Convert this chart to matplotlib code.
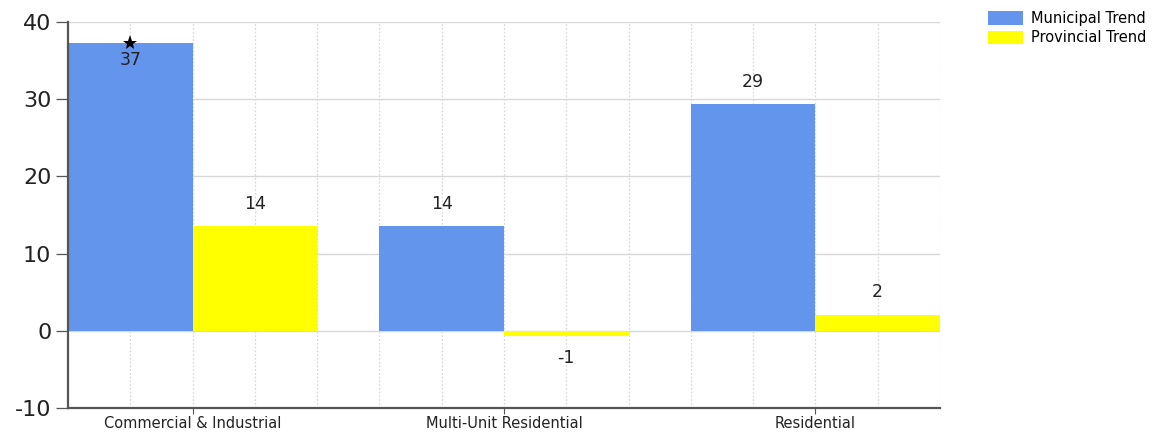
import matplotlib
matplotlib.use("Agg")
import matplotlib.pyplot as plt
import numpy as np
from matplotlib.patches import Patch

plt.rcParams['font.family'] = ['DejaVu Sans']

categories = ["Commercial & Industrial", "Multi-Unit Residential", "Residential"]
municipal = [37.3, 13.6, 29.4]
provincial = [13.6, -0.7, 2.1]
series_names = ["Municipal Trend", "Provincial Trend"]
colors = ["#6495ED", "#FFFF00"]
y_ticks = [-10, 0, 10, 20, 30, 40]

fig = plt.figure(figsize=(11.59, 4.32), dpi=100)
ax = fig.add_axes([68 / 1159, 24 / 432, 872 / 1159, 386 / 432])

bar_w = 2.0
group_step = 5.0
centers = np.arange(len(categories)) * group_step + bar_w

ax.bar(centers - bar_w / 2, municipal, width=bar_w, color=colors[0], zorder=2)
ax.bar(centers + bar_w / 2, provincial, width=bar_w, color=colors[1], zorder=2)

ymin, ymax = -10, 40
ax.set_ylim(ymin, ymax)
ax.set_xlim(0, group_step * (len(categories) - 1) + 2 * bar_w)

# value labels: above positive bars, below negative ones, inside when near the top
label_kw = dict(textcoords="offset points", ha="center", va="center",
                fontsize=12.5, color="#222222", zorder=4)
for xs, vals in ((centers - bar_w / 2, municipal), (centers + bar_w / 2, provincial)):
    for x, v in zip(xs, vals):
        txt = f"{v:.0f}"
        if v >= 0 and v + 4 > ymax:
            ax.plot([x], [v], marker="*", color="black", markersize=11,
                    markeredgewidth=0, zorder=3)
            ax.annotate(txt, (x, v), xytext=(0, -12.5), **label_kw)
        elif v >= 0:
            ax.annotate(txt, (x, v), xytext=(0, 16), **label_kw)
        else:
            ax.annotate(txt, (x, v), xytext=(0, -15.5), **label_kw)

# grid
ax.set_yticks(y_ticks)
ax.set_yticklabels([str(t) for t in y_ticks], fontsize=16, color="#222222")
ax.yaxis.grid(True, color="#d8d8d8", linewidth=1.0, zorder=0)
for gx in np.arange(1, ax.get_xlim()[1] + 0.5, 1):
    ax.axvline(gx, color="#d8d8d8", linewidth=0.9, linestyle=(0, (1.5, 1.5)), zorder=0)

ax.set_xticks(centers)
ax.set_xticklabels(categories, fontsize=10.5, color="#222222")
ax.tick_params(axis="x", length=4, width=0.8, color="#555555", pad=2)
ax.tick_params(axis="y", length=9, width=0.9, color="#555555", pad=3)

for s in ("top", "right"):
    ax.spines[s].set_visible(False)
for s in ("left", "bottom"):
    ax.spines[s].set_color("#555555")
    ax.spines[s].set_linewidth(1.6)

handles = [Patch(facecolor=c, edgecolor="none") for c in colors]
fig.legend(handles, series_names, loc="upper left", bbox_to_anchor=(988 / 1159, 1 - 11 / 432),
           frameon=False, fontsize=10.5, handlelength=2.4, handleheight=1.0,
           handletextpad=0.55, labelspacing=0.3, borderaxespad=0, borderpad=0)

fig.savefig("out.png", dpi=100)
